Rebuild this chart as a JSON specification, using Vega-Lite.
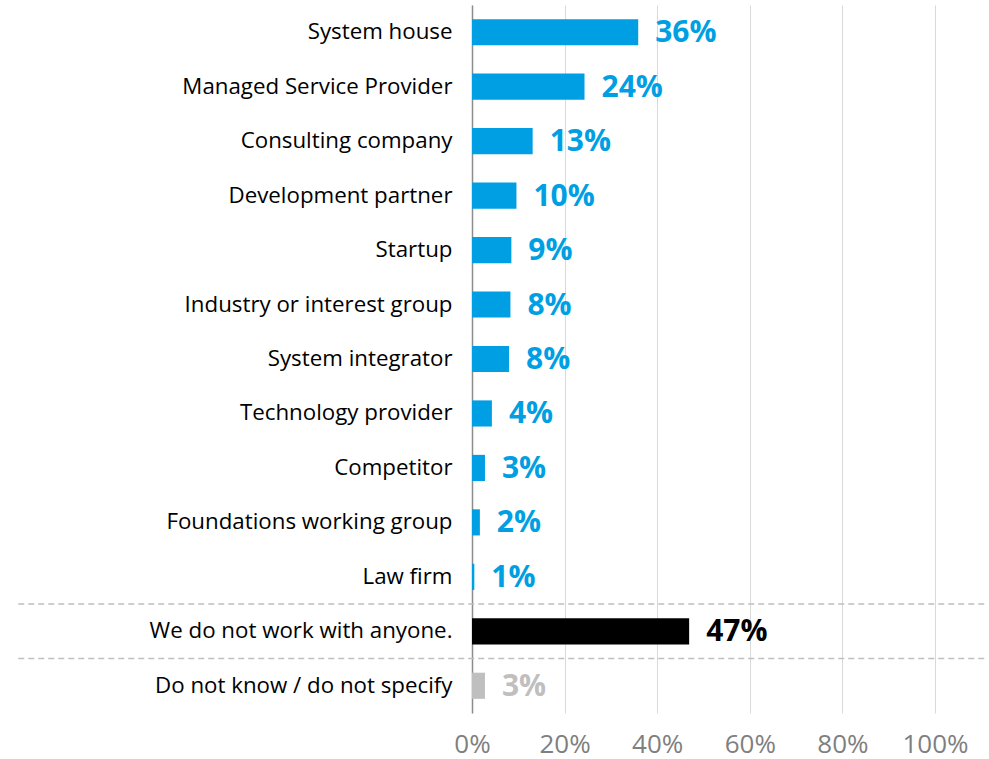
{
  "$schema": "https://vega.github.io/schema/vega-lite/v6.json",
  "autosize": {"type": "none"},
  "padding": {"left": 472, "top": 5, "right": 54, "bottom": 46},
  "width": 463,
  "height": 708,
  "background": "white",
  "config": {"view": {"stroke": null}, "font": "Open Sans"},
  "data": {"values": [
    {"cat": "System house", "value": 35.9, "label": "36%", "grp": "main"},
    {"cat": "Managed Service Provider", "value": 24.3, "label": "24%", "grp": "main"},
    {"cat": "Consulting company", "value": 13.1, "label": "13%", "grp": "main"},
    {"cat": "Development partner", "value": 9.6, "label": "10%", "grp": "main"},
    {"cat": "Startup", "value": 8.5, "label": "9%", "grp": "main"},
    {"cat": "Industry or interest group", "value": 8.3, "label": "8%", "grp": "main"},
    {"cat": "System integrator", "value": 8.0, "label": "8%", "grp": "main"},
    {"cat": "Technology provider", "value": 4.3, "label": "4%", "grp": "main"},
    {"cat": "Competitor", "value": 2.8, "label": "3%", "grp": "main"},
    {"cat": "Foundations working group", "value": 1.7, "label": "2%", "grp": "main"},
    {"cat": "Law firm", "value": 0.5, "label": "1%", "grp": "main"},
    {"cat": "We do not work with anyone.", "value": 46.9, "label": "47%", "grp": "none"},
    {"cat": "Do not know / do not specify", "value": 2.8, "label": "3%", "grp": "dk"}
  ]},
  "encoding": {
    "y": {
      "field": "cat", "type": "nominal", "sort": null,
      "scale": {"paddingInner": 0, "paddingOuter": 0},
      "axis": {
        "title": null, "ticks": false, "labelPadding": 20, "labelFontSize": 22.3,
        "labelColor": "#000000", "labelFont": "Open Sans", "domainColor": "#8c8c8c", "domainWidth": 1.5,
        "grid": false, "labelLimit": 460
      }
    }
  },
  "layer": [
    {
      "mark": {"type": "bar", "height": {"band": 0.48}},
      "encoding": {
        "x": {
          "field": "value", "type": "quantitative",
          "scale": {"domain": [0, 100]},
          "axis": {
            "title": null, "values": [0, 20, 40, 60, 80, 100], "format": ".0f", "labelExpr": "datum.label + '%'",
            "domain": false, "ticks": false, "labelFlush": false, "labelPadding": 18, "labelFontSize": 26, "labelColor": "#7f7f7f",
            "gridColor": "#d9d9d9", "gridWidth": 1
          }
        },
        "color": {
          "field": "grp", "type": "nominal", "legend": null,
          "scale": {"domain": ["main", "none", "dk"], "range": ["#009FE3", "#000000", "#BFBFBF"]}
        }
      }
    },
    {
      "mark": {"type": "text", "align": "left", "baseline": "middle", "dx": 17, "dy": 1, "fontSize": 30, "fontWeight": "bold"},
      "encoding": {
        "x": {"field": "value", "type": "quantitative"},
        "text": {"field": "label"},
        "color": {"field": "grp", "type": "nominal", "legend": null}
      }
    },
    {
      "data": {"values": [{"cat": "We do not work with anyone."}, {"cat": "Do not know / do not specify"}]},
      "mark": {"type": "rule", "strokeDash": [6, 4], "color": "#bfbfbf", "strokeWidth": 1.5, "clip": false},
      "encoding": {
        "y": {"field": "cat", "type": "nominal", "sort": null, "bandPosition": 0},
        "x": {"datum": -98},
        "x2": {"datum": 111}
      }
    }
  ]
}
